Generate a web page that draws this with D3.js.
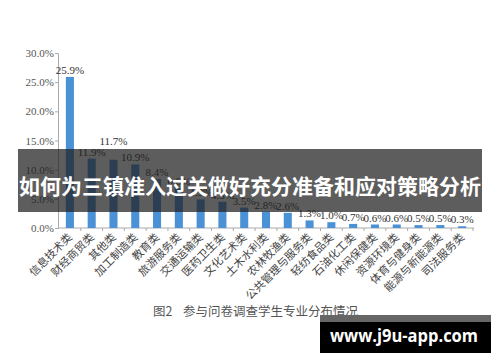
<!DOCTYPE html>
<html>
<head>
<meta charset="utf-8">
<script src="https://cdn.jsdelivr.net/npm/d3@7"></script>
<style>
  html, body { margin: 0; padding: 0; background: #fff; }
  svg { display: block; }
</style>
</head>
<body>
<div id="chart"></div>
<script>
const categories = ['信息技术类', '财经商贸类', '其他类', '加工制造类', '教育类', '旅游服务类',
  '交通运输类', '医药卫生类', '文化艺术类', '土木水利类', '农林牧渔类', '公共管理与服务类',
  '轻纺食品类', '石油化工类', '休闲保健类', '资源环境类', '体育与健身类', '能源与新能源类', '司法服务类'];
const shares = [25.9, 11.9, 11.7, 10.9, 8.4, 6.8, 4.9, 4.5, 3.5, 2.8, 2.6, 1.3, 1.0, 0.7, 0.6, 0.6, 0.5, 0.5, 0.3];
const yTicks = [0, 5, 10, 15, 20, 25, 30];
const bannerText = '如何为三镇准入过关做好充分准备和应对策略分析';
const captionNo = '图2';
const captionText = '参与问卷调查学生专业分布情况';
const watermark = 'www.j9u-app.com';

const width = 500;
const height = 362;

const svg = d3.select('#chart').append('svg')
  .attr('width', width)
  .attr('height', height);

svg.append('rect')
  .attr('width', width)
  .attr('height', height)
  .attr('fill', '#fff');

const serif = '"Liberation Serif", "Times New Roman", serif';
const cjk = '"Noto Sans CJK SC", sans-serif';

const xScale = d3.scaleBand()
  .domain(categories)
  .range([59, 473])
  .paddingInner(0.63)
  .paddingOuter(0.315);

const yScale = d3.scaleLinear()
  .domain([0, 30])
  .range([228, 53]);

// y axis
const yAxis = d3.axisLeft(yScale)
  .tickValues(yTicks)
  .tickSize(3)
  .tickPadding(1)
  .tickFormat(d => d.toFixed(1) + '%');

const yAxisGroup = svg.append('g')
  .attr('transform', 'translate(58,0)')
  .call(yAxis);
yAxisGroup.select('.domain').attr('stroke', '#aaa');
yAxisGroup.selectAll('.tick line').attr('stroke', '#aaa');
yAxisGroup.selectAll('.tick text')
  .attr('fill', '#555')
  .style('font-family', serif)
  .style('font-size', '11px');

// x axis line + ticks between bands
const step = xScale.step();
svg.append('line')
  .attr('x1', 58).attr('x2', 474)
  .attr('y1', yScale(0)).attr('y2', yScale(0))
  .attr('stroke', '#aaa');
svg.append('g')
  .selectAll('line')
  .data(categories)
  .join('line')
  .attr('x1', d => xScale(d) + xScale.bandwidth() / 2 + step / 2)
  .attr('x2', d => xScale(d) + xScale.bandwidth() / 2 + step / 2)
  .attr('y1', yScale(0))
  .attr('y2', yScale(0) + 3)
  .attr('stroke', '#aaa');

// bars
const rows = categories.map((c, i) => ({category: c, value: shares[i]}));

svg.append('g')
  .selectAll('rect')
  .data(rows)
  .join('rect')
  .attr('x', d => xScale(d.category))
  .attr('y', d => yScale(d.value))
  .attr('width', xScale.bandwidth())
  .attr('height', d => yScale(0) - yScale(d.value))
  .attr('fill', '#4b91d6');

// value labels, lifted when they would run into the previous one
const labelFont = 11;
const labels = rows.map(d => {
  const text = d.value.toFixed(1) + '%';
  return {
    text: text,
    x: xScale(d.category) + xScale.bandwidth() / 2,
    y: yScale(d.value) - 3,
    w: (text.length - 2) * labelFont * 0.5 + labelFont * 0.25 + labelFont * 0.83
  };
});
labels.forEach((l, i) => {
  if (i === 0) return;
  const prev = labels[i - 1];
  const overlap = (prev.w + l.w) / 2 - (l.x - prev.x);
  if (overlap > 4 && Math.abs(prev.y - l.y) < 10) {
    l.y = prev.y - 11;
  }
});

svg.append('g')
  .selectAll('text')
  .data(labels)
  .join('text')
  .attr('x', d => d.x)
  .attr('y', d => d.y)
  .attr('text-anchor', 'middle')
  .attr('fill', '#333')
  .style('font-family', serif)
  .style('font-size', labelFont + 'px')
  .text(d => d.text);

// category labels
svg.append('g')
  .selectAll('text')
  .data(categories)
  .join('text')
  .attr('transform', d => `translate(${xScale(d) + xScale.bandwidth() / 2 + 3},238) rotate(-45)`)
  .attr('text-anchor', 'end')
  .attr('fill', '#444')
  .style('font-family', cjk)
  .style('font-size', '11px')
  .text(d => d);

// caption
svg.append('text')
  .attr('x', 153).attr('y', 316)
  .attr('fill', '#555')
  .style('font-family', cjk)
  .style('font-size', '12.5px')
  .text(captionNo);
svg.append('text')
  .attr('x', 183).attr('y', 316)
  .attr('fill', '#555')
  .style('font-family', cjk)
  .style('font-size', '12.5px')
  .text(captionText);

// banner overlay
svg.append('rect')
  .attr('x', 18).attr('y', 149)
  .attr('width', 464).attr('height', 63)
  .attr('fill', 'rgba(30,30,30,0.72)');
svg.append('text')
  .attr('x', 250).attr('y', 194)
  .attr('text-anchor', 'middle')
  .attr('fill', '#fff')
  .style('font-family', cjk)
  .style('font-weight', 'bold')
  .style('font-size', '21px')
  .text(bannerText);

// watermark
svg.append('rect')
  .attr('x', 320).attr('y', 315)
  .attr('width', 171).attr('height', 7)
  .attr('fill', '#666');
svg.append('rect')
  .attr('x', 320).attr('y', 322)
  .attr('width', 171).attr('height', 31)
  .attr('fill', '#000');
svg.append('text')
  .attr('x', 330).attr('y', 342)
  .attr('fill', '#fff')
  .attr('textLength', 148)
  .attr('lengthAdjust', 'spacingAndGlyphs')
  .style('font-family', '"Open Sans", sans-serif')
  .style('font-weight', 'bold')
  .style('font-size', '18px')
  .text(watermark);
</script>
</body>
</html>
